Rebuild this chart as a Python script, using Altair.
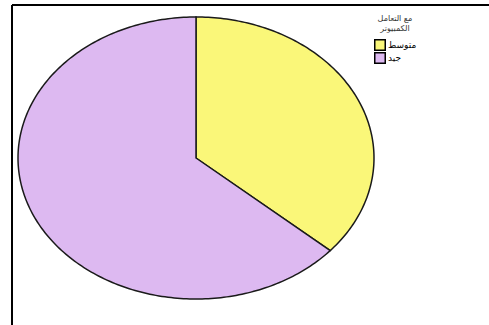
import math
import altair as alt
import pandas as pd

# ---- data ----
categories = ["متوسط", "جيد"]
shares = [36.4, 63.6]
colors = ["#FAF779", "#DDB9F1"]
legend_title = ["مع التعامل", "الكمبيوتر"]

# build wedge outlines (parametric angle, clockwise from 12 o'clock) from the shares
rows = []
total = sum(shares)
start = 0.0
for cat, v in zip(categories, shares):
    end = start + v / total * 360.0
    i = 0
    rows.append({"cat": cat, "i": i, "x": 0.0, "y": 0.0})
    n = max(2, int(end - start) + 1)
    for k in range(n + 1):
        a = math.radians(start + (end - start) * k / n)
        i += 1
        rows.append({"cat": cat, "i": i, "x": math.sin(a), "y": math.cos(a)})
    start = end
df = pd.DataFrame(rows)

W, H = 477, 320
xs = alt.Scale(domain=[-184 / 178, (W - 184) / 178], nice=False, zero=False)
ys = alt.Scale(domain=[-(H - 153) / 141, 153 / 141], nice=False, zero=False)

pie = alt.Chart(df).mark_line(
    interpolate="linear-closed", stroke="#1a1a1a", strokeWidth=1.5
).encode(
    x=alt.X("x:Q", scale=xs, axis=None),
    y=alt.Y("y:Q", scale=ys, axis=None),
    order=alt.Order("i:Q"),
    detail="cat:N",
    fill=alt.Fill(
        "cat:N",
        scale=alt.Scale(domain=categories, range=colors),
        sort=categories,
        legend=alt.Legend(
            title=legend_title,
            orient="none",
            legendX=362,
            legendY=10,
            symbolType="square",
            symbolSize=110,
            symbolStrokeColor="#000000",
            symbolStrokeWidth=1.5,
            symbolOpacity=1,
            clipHeight=12,
            labelFontSize=9,
            labelFont="DejaVu Sans",
            titleFont="DejaVu Sans",
            titleFontSize=8,
            titleFontWeight="normal",
            titleColor="#333333",
            titleAlign="center",
            titleAnchor="middle",
            titlePadding=6,
            rowPadding=1,
            labelOffset=2,
        ),
    ),
)

frame_left = alt.Chart(df).mark_rule(color="#000000", strokeWidth=2).encode(
    x=alt.value(0), y=alt.value(0), y2=alt.value(H)
)
frame_top = alt.Chart(df).mark_rule(color="#000000", strokeWidth=2).encode(
    x=alt.value(0), x2=alt.value(W), y=alt.value(0)
)

chart = alt.layer(pie, frame_left, frame_top).properties(
    width=W,
    height=H,
    autosize=alt.AutoSizeParams(type="none"),
    padding={"left": 12, "top": 5, "right": 0, "bottom": 0},
    background="white",
).configure_view(stroke=None)

chart.save("out.html", embed_options={"renderer": "svg", "actions": False})
